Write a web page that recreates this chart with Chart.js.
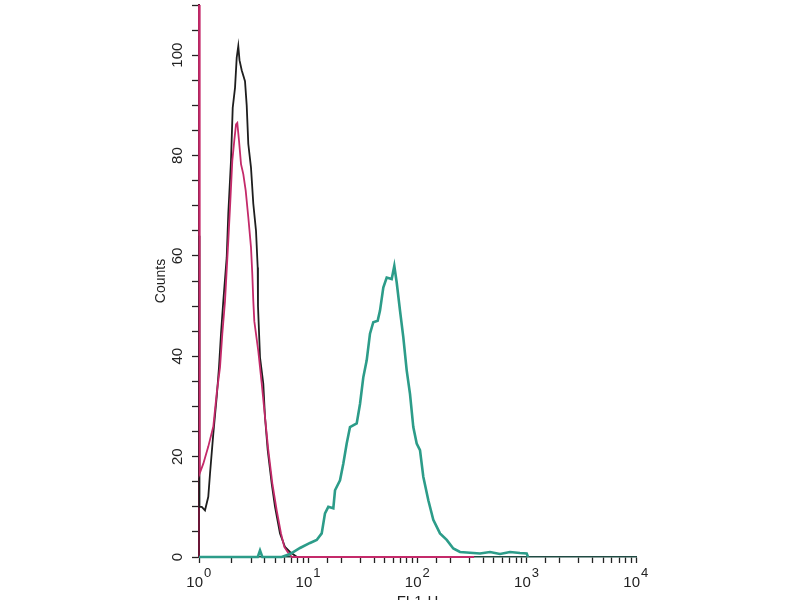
<!DOCTYPE html>
<html>
<head>
<meta charset="utf-8">
<script src="https://cdn.jsdelivr.net/npm/chart.js@4.4.1/dist/chart.umd.min.js"></script>
<style>
  html, body { margin: 0; padding: 0; background: #ffffff; }
  canvas { display: block; }
</style>
</head>
<body>
<canvas id="c" width="800" height="600"></canvas>
<script>
// FL1-H channel values (log axis) and counts
const unstainedX = [1, 1.01, 1.06, 1.135, 1.216, 1.261, 1.352, 1.452, 1.524, 1.590, 1.669, 1.793, 1.854, 1.963, 2.035, 2.136, 2.214, 2.289, 2.348, 2.460, 2.637, 2.733, 2.827, 2.992, 3.141, 3.325, 3.446, 3.467, 3.618, 3.878, 4.019, 4.255, 4.629, 4.963, 5.513, 6.127, 6.807, 7.89, 300];
const unstainedY = [64, 10, 10, 9.3, 12, 16.6, 24.6, 31.9, 37.8, 44.5, 51, 59.7, 68.4, 79, 89.5, 93.5, 99.5, 101.8, 99, 97, 94.8, 90, 82.3, 77.6, 70.4, 65, 57.7, 50, 39.8, 34.5, 27.9, 21.3, 14.6, 10, 4.7, 2, 1, 0, 0];

const isotypeX = [1, 1.01, 1.021, 1.095, 1.216, 1.352, 1.452, 1.557, 1.635, 1.730, 1.854, 1.922, 2.018, 2.104, 2.182, 2.242, 2.323, 2.424, 2.544, 2.676, 2.827, 2.992, 3.075, 3.141, 3.208, 3.490, 3.750, 4.019, 4.309, 4.688, 5.143, 5.630, 6.036, 6.568, 7.10, 330];
const isotypeY = [110, 17, 16.7, 18.6, 22, 26, 32.6, 37.8, 44.5, 51, 63, 69.6, 79, 83, 86.2, 86.5, 83, 78.3, 76.3, 73, 67.7, 61.7, 56.4, 51, 47, 41, 34.6, 27.9, 21.3, 14.7, 9.3, 4.7, 2, 0.8, 0, 0];

const stainedX = [1, 3.45, 3.618, 3.80, 5.71, 6.81, 8.41, 10.38, 11.95, 13.28, 14.23, 15.26, 16.96, 17.58, 19.53, 20.93, 22.49, 24.11, 27.77, 29.77, 31.90, 34.28, 36.74, 39.38, 43.22, 45.38, 48.64, 52.25, 58.05, 61.33, 64.51, 69.17, 74.13, 79.63, 85.37, 91.53, 98.33, 105.4, 113.0, 125.6, 139.5, 160.7, 185.1, 212.7, 244.9, 282.0, 373.3, 460.9, 569.0, 702.8, 867.1, 998.9, 1027];
const stainedY = [0, 0, 1.3, 0, 0, 0.6, 1.8, 2.8, 3.4, 4.7, 8.7, 10, 9.7, 13.3, 15.3, 18.6, 22.6, 25.9, 26.6, 30.5, 35.8, 39.2, 44.5, 46.8, 47.1, 49.1, 53.7, 55.7, 55.4, 58, 54.7, 49.1, 43.8, 37.2, 32.5, 25.9, 22.6, 21.3, 16, 11.3, 7.4, 4.7, 3.4, 1.7, 1, 0.9, 0.7, 1, 0.6, 1, 0.8, 0.7, 0];

// x tick labels: decade value -> exponent shown as "10" with superscript
const xDecades = [1, 10, 100, 1000, 10000];
const xExponents = ['0', '1', '2', '3', '4'];
const yLabelStep = 20;

function pts(xs, ys) { return xs.map((x, i) => ({x: x, y: ys[i]})); }

const FONT = "'Liberation Sans', Arial, sans-serif";

// draws "10" + superscript exponent at each decade position of the x scale
const decadeLabels = {
  id: 'decadeLabels',
  afterDraw(chart) {
    const s = chart.scales.x;
    const ctx = chart.ctx;
    ctx.save();
    ctx.fillStyle = '#222';
    ctx.textBaseline = 'alphabetic';
    xDecades.forEach((v, i) => {
      const px = s.getPixelForValue(v);
      const base = s.top + 30;
      ctx.font = '15px ' + FONT;
      ctx.textAlign = 'right';
      ctx.fillText('10', px + 4, base);
      ctx.font = '13px ' + FONT;
      ctx.textAlign = 'left';
      ctx.fillText(xExponents[i], px + 5, base - 10);
    });
    ctx.restore();
  }
};

new Chart(document.getElementById('c'), {
  type: 'line',
  data: {
    datasets: [
      { label: 'Stained', data: pts(stainedX, stainedY), borderColor: '#2c9c89', borderWidth: 2.6, clip: 3 },
      { label: 'Isotype', data: pts(isotypeX, isotypeY), borderColor: '#c42a6a', borderWidth: 1.8, clip: 3 },
      { label: 'Unstained', data: pts(unstainedX, unstainedY), borderColor: '#1e1e1e', borderWidth: 1.8, clip: 3 }
    ]
  },
  plugins: [decadeLabels],
  options: {
    responsive: false,
    animation: false,
    devicePixelRatio: 1,
    layout: { padding: { left: 153, right: 164, top: 5, bottom: 0 } },
    elements: { point: { radius: 0 }, line: { tension: 0, fill: false } },
    plugins: { legend: { display: false }, tooltip: { enabled: false } },
    scales: {
      x: {
        type: 'logarithmic',
        min: 1,
        max: 10000,
        afterFit: (s) => { s.height = 43; s.paddingLeft = 0; s.paddingRight = 0; },
        border: { display: true, color: '#1f4a42', width: 1.5 },
        grid: { drawOnChartArea: false, drawTicks: true, tickLength: 6, tickColor: '#222', tickWidth: 1.3 },
        ticks: {
          autoSkip: false, maxRotation: 0, minRotation: 0, padding: 2,
          color: '#222', font: { family: FONT, size: 14 },
          callback: () => ''
        },
        title: { display: true, text: 'FL1-H', color: '#222', font: { family: FONT, size: 15 }, padding: { top: 0, bottom: -11 } }
      },
      y: {
        type: 'linear',
        min: 0,
        max: 110,
        afterFit: (s) => { s.width = 46; s.paddingTop = 0; s.paddingBottom = 0; },
        border: { display: true, color: '#6a1536', width: 2 },
        grid: { drawOnChartArea: false, drawTicks: true, tickLength: 7, tickColor: '#222', tickWidth: 1.3 },
        ticks: {
          stepSize: 5, autoSkip: false, minRotation: 90, maxRotation: 90,
          crossAlign: 'center', padding: 2,
          color: '#222', font: { family: FONT, size: 15 },
          callback: (v) => (v % yLabelStep === 0 && v <= 100) ? String(v) : ''
        },
        title: { display: true, text: 'Counts', color: '#222', font: { family: FONT, size: 14 }, padding: { top: 0, bottom: 0 } }
      }
    }
  }
});
</script>
</body>
</html>
